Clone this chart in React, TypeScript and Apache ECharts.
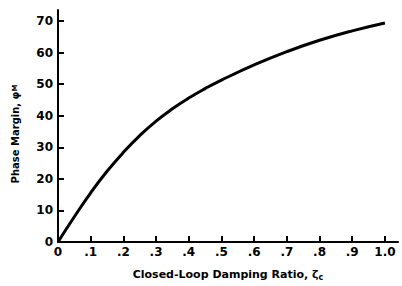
import React, { useEffect, useRef } from "react";
import * as echarts from "echarts";

const dampingRatio = [0, 0.05, 0.1, 0.15, 0.2, 0.25, 0.3, 0.35, 0.4, 0.45, 0.5, 0.6, 0.7, 0.8, 0.9, 1.0];
const phaseMargin = [0, 8, 15.6, 22.4, 28.4, 33.7, 38.3, 42.2, 45.6, 48.6, 51.3, 56.1, 60.3, 63.9, 66.9, 69.4];
const xTickLabels = ["0", ".1", ".2", ".3", ".4", ".5", ".6", ".7", ".8", ".9", "1.0"];
const yTickLabels = ["0", "10", "20", "30", "40", "50", "60", "70"];

const FONT = "DejaVu Sans";

export default function App() {
  const ref = useRef<HTMLDivElement>(null);
  useEffect(() => {
    if (!ref.current) return;
    const chart = echarts.init(ref.current, null, { renderer: "svg" });
    chart.setOption({
      animation: false,
      backgroundColor: "#fff",
      grid: { left: 58, right: 4, top: 10, bottom: 39, containLabel: false },
      graphic: [
        {
          type: "text",
          x: 15,
          y: 134,
          rotation: Math.PI / 2,
          style: {
            text: "{a|Phase Margin, φ}{s|M}",
            align: "center",
            verticalAlign: "middle",
            rich: {
              a: { fontFamily: FONT, fontWeight: "bold", fontSize: 10, fill: "#000" },
              s: { fontFamily: FONT, fontWeight: "bold", fontSize: 7, fill: "#000" },
            },
          },
        },
      ],
      xAxis: {
        type: "value",
        min: 0,
        max: 1.04,
        interval: 0.1,
        axisLine: { lineStyle: { color: "#000", width: 2 } },
        axisTick: { inside: true, length: 6, lineStyle: { color: "#000", width: 2 } },
        splitLine: { show: false },
        axisLabel: {
          showMaxLabel: false,
          margin: 4,
          color: "#000",
          fontFamily: FONT,
          fontWeight: "bold",
          fontSize: 12,
          formatter: (v: number) => {
            const i = Math.round(v * 10);
            return xTickLabels[i] ?? "";
          },
        },
        name: "{a|Closed-Loop Damping Ratio, ζ}{s|c}",
        nameLocation: "middle",
        nameGap: 25,
        nameTextStyle: {
          rich: {
            a: { fontFamily: FONT, fontWeight: "bold", fontSize: 11, color: "#000" },
            s: { fontFamily: FONT, fontWeight: "bold", fontSize: 8, color: "#000", verticalAlign: "bottom", padding: [6, 0, 0, 0] },
          },
        },
      },
      yAxis: {
        type: "value",
        min: 0,
        max: 73.5,
        interval: 10,
        axisLine: { show: true, lineStyle: { color: "#000", width: 2 } },
        axisTick: { show: true, inside: true, length: 6, lineStyle: { color: "#000", width: 2 } },
        splitLine: { show: false },
        axisLabel: {
          showMaxLabel: false,
          margin: 5,
          color: "#000",
          fontFamily: FONT,
          fontWeight: "bold",
          fontSize: 12,
          formatter: (v: number) => yTickLabels[Math.round(v / 10)] ?? "",
        },
      },
      series: [
        {
          type: "line",
          data: dampingRatio.map((x, i) => [x, phaseMargin[i]]),
          smooth: 0.5,
          symbol: "none",
          lineStyle: { color: "#000", width: 3 },
        },
      ],
    });
    return () => chart.dispose();
  }, []);
  return <div ref={ref} style={{ width: 402, height: 286, position: "fixed", left: 0, top: 0 }} />;
}
